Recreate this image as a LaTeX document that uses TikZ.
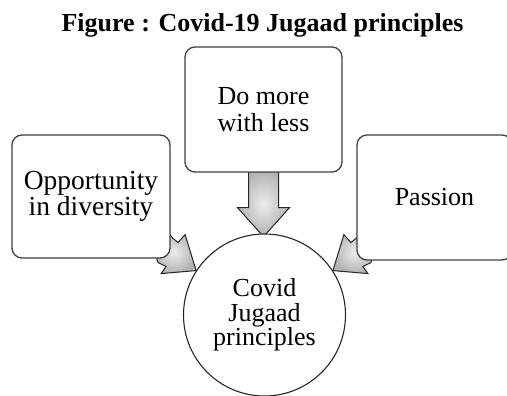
\documentclass[tikz,border=0pt]{standalone}
\usepackage{fontspec}
\setmainfont{Liberation Serif}
\usetikzlibrary{calc}
\pgfdeclarelayer{bg}
\pgfsetlayers{bg,main}
\tikzset{
  box/.style={draw=black!75, line width=1.3pt, rounded corners=10pt, fill=white, inner sep=0pt, align=center},
  hub/.style={draw=black!85, line width=1.1pt, circle, fill=white, inner sep=0pt, align=center, minimum size=162pt},
  blockarrow/.style={draw=black!85, line width=1pt, line join=miter, inner color=gray!15, outer color=gray!60, shading=radial},
}
\begin{document}
\begin{tikzpicture}[x=1pt,y=-1pt]
\useasboundingbox (0,0) rectangle (507,396);
\node[font=\fontsize{26}{28}\selectfont\bfseries, anchor=base] (title) at (262.5,32) {Figure : Covid-19 Jugaad principles};
\node[box, minimum width=157pt, minimum height=125pt, font=\fontsize{26}{27}\selectfont] (top) at (263.5,109.5) {Do more\\with less};
\node[box, minimum width=158pt, minimum height=123pt, font=\fontsize{27.5}{25}\selectfont] (left) at (91,196.5) {Opportunity\\in diversity};
\node[box, minimum width=155pt, minimum height=125pt, font=\fontsize{26}{26}\selectfont] (right) at (434.5,197.5) {Passion};
\node[hub, font=\fontsize{26}{24.5}\selectfont] (c) at (264.5,315) {Covid\\Jugaad\\principles};
\begin{pgfonlayer}{bg}
\begin{scope}[shift={(top.south)}]
  \draw[blockarrow] (-15,-2) -- (15,-2) -- (15,35) -- (26,35) -- (0,64) -- (-26,35) -- (-15,35) -- cycle;
\end{scope}
\begin{scope}[shift={(c.147)}]
  \draw[blockarrow] (-11,-36) -- (0,0) -- (-35,3) -- (-30,-4) -- (-38,-8) -- (-44,-25) -- (-29,-40) -- (-24,-33) -- (-18,-28) -- cycle;
\end{scope}
\begin{scope}[shift={(c.33)}, xscale=-1]
  \draw[blockarrow] (-11,-36) -- (0,0) -- (-35,3) -- (-30,-4) -- (-38,-8) -- (-44,-25) -- (-29,-40) -- (-24,-33) -- (-18,-28) -- cycle;
\end{scope}
\end{pgfonlayer}
\end{tikzpicture}
\end{document}
